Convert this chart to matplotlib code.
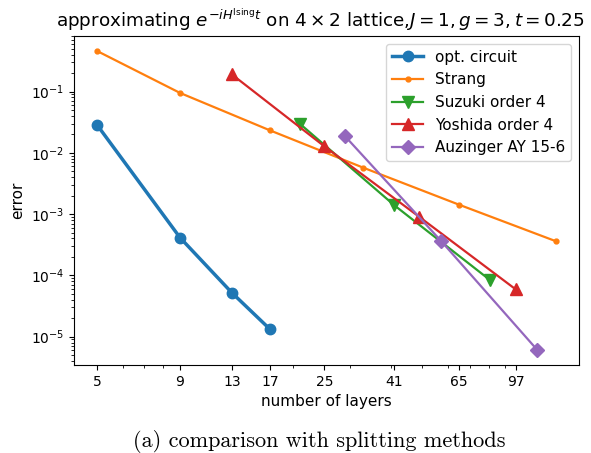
import matplotlib
matplotlib.use("Agg")
import matplotlib.pyplot as plt
from matplotlib.ticker import NullFormatter

opt_x = [5, 9, 13, 17]
opt_y = [0.0287, 4.14e-4, 5.2e-5, 1.33e-5]

strang_x = [5, 9, 17, 33, 65, 129]
strang_y = [0.46, 0.095, 0.0233, 5.7e-3, 1.42e-3, 3.6e-4]

suzuki_x = [21, 41, 81]
suzuki_y = [0.030, 1.40e-3, 8.3e-5]

yoshida_x = [13, 25, 49, 97]
yoshida_y = [0.19, 0.0128, 9.0e-4, 5.9e-5]

auz_x = [29, 57, 113]
auz_y = [0.0185, 3.7e-4, 6.05e-6]

xticks = [5, 9, 13, 17, 25, 41, 65, 97]

fig = plt.figure(figsize=(5.91, 4.53), dpi=100)
ax = fig.add_axes([0.1252, 0.1943, 0.8545, 0.7263])

ax.plot(opt_x, opt_y, marker='o', markersize=7.5, lw=2.5, color='C0', label='opt. circuit')
ax.plot(strang_x, strang_y, marker='.', markersize=7, lw=1.6, color='C1', label='Strang')
ax.plot(suzuki_x, suzuki_y, marker='v', markersize=8, lw=1.6, color='C2', label='Suzuki order 4')
ax.plot(yoshida_x, yoshida_y, marker='^', markersize=8, lw=1.6, color='C3', label='Yoshida order 4')
ax.plot(auz_x, auz_y, marker='D', markersize=7, lw=1.6, color='C4', label='Auzinger AY 15-6')

ax.set_xscale('log')
ax.set_yscale('log')
ax.set_xticks(xticks)
ax.set_xticklabels([str(v) for v in xticks])
ax.xaxis.set_minor_formatter(NullFormatter())
ax.tick_params(labelsize=10)

ax.set_xlabel('number of layers', fontsize=11)
ax.set_ylabel('error', fontsize=11)
ax.set_title(r'approximating $e^{-iH^{\mathrm{Ising}}t}$ on $4\times2$ lattice,$J=1, g=3, t=0.25$',
             fontsize=13.2, x=0.487)
ax.legend(loc='upper right', fontsize=11)

fig.text(0.54, 0.025, '(a) comparison with splitting methods', family='cmr10', fontsize=16, ha='center', va='center')

fig.savefig('out.png', dpi=100)
